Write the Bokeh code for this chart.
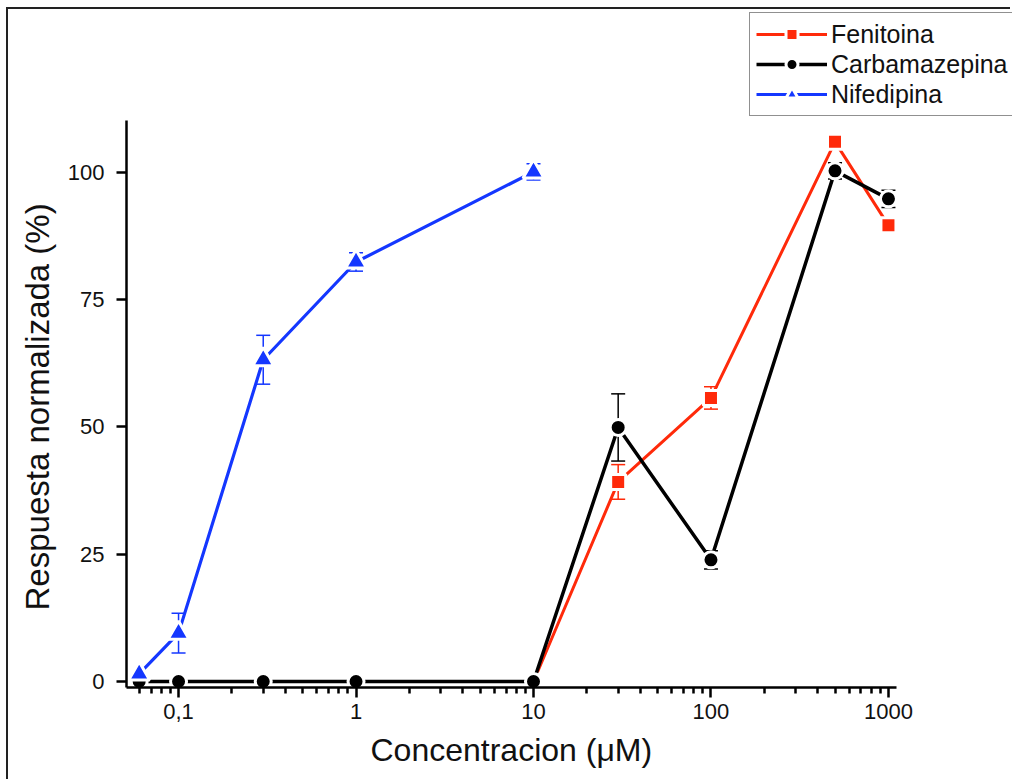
from bokeh.plotting import figure
from bokeh.models import (Range1d, FixedTicker, CustomJSTickFormatter, Whisker, TeeHead,
                          ColumnDataSource, Legend, LegendItem, Title)
from bokeh.embed import file_html
from bokeh.resources import INLINE

# ---- data ----
conc_nif = [0.06, 0.1, 0.3, 1, 10]
resp_nif = [1.5, 9.5, 63.2, 82.4, 100.1]
err_nif = [0.0, 3.9, 4.8, 1.8, 1.6]

conc_fc = [0.06, 0.1, 0.3, 1, 10, 30, 100, 500, 1000]
resp_fen = [0, 0, 0, 0, 0, 39.2, 55.7, 106.0, 89.6]
err_fen = [0, 0, 0, 0, 0, 3.4, 2.2, 1.3, 1.2]
resp_carb = [0, 0, 0, 0, 0, 49.9, 23.9, 100.3, 94.8]
err_carb = [0, 0, 0, 0, 0, 6.6, 1.8, 1.6, 1.7]

x_ticks = [0.1, 1, 10, 100, 1000]
x_tick_labels = ["0,1", "1", "10", "100", "1000"]
y_ticks = [0, 25, 50, 75, 100]

x_title = "Concentracion (μM)"
y_title = "Respuesta normalizada (%)"
names = ["Fenitoina", "Carbamazepina", "Nifedipina"]
colors = ["#FF2A0A", "#000000", "#1437FF"]

FONT = "Liberation Sans"

# axis extents (drawn part) and the wider plotting area that also hosts the legend
x_axis_bounds = (0.0509, 1110)
y_axis_bounds = (-1.18, 110.2)

p = figure(width=1004, height=772, x_axis_type="log",
           x_range=Range1d(0.0509, 5000), y_range=Range1d(-1.18, 131.8),
           output_backend="svg", toolbar_location=None,
           min_border_left=118, min_border_right=0,
           min_border_top=1, min_border_bottom=94)
p.styles = {"margin-left": "6px", "margin-top": "7px",
            "border-left": "2px solid #222", "border-top": "2px solid #222"}
p.outline_line_color = None
p.xgrid.grid_line_color = None
p.ygrid.grid_line_color = None
p.background_fill_color = "white"
p.border_fill_color = "white"

minor = [m * 10.0 ** e for e in range(-2, 3) for m in range(2, 10)]
minor = [v for v in minor if x_axis_bounds[0] <= v <= x_axis_bounds[1]]
p.xaxis.ticker = FixedTicker(ticks=x_ticks, minor_ticks=minor)
p.xaxis.formatter = CustomJSTickFormatter(args=dict(vals=x_ticks, labs=x_tick_labels), code="""
for (let i = 0; i < vals.length; i++) {
  if (Math.abs(Math.log10(tick) - Math.log10(vals[i])) < 1e-6) return labs[i];
}
return '';
""")
p.yaxis.ticker = FixedTicker(ticks=y_ticks)
p.xaxis.bounds = x_axis_bounds
p.yaxis.bounds = y_axis_bounds

for ax in (p.xaxis[0], p.yaxis[0]):
    ax.axis_line_width = 2.5
    ax.axis_line_color = "black"
    ax.major_tick_line_width = 2.5
    ax.minor_tick_line_width = 2.5
    ax.major_tick_out = 10
    ax.major_tick_in = 0
    ax.minor_tick_out = 6
    ax.minor_tick_in = 0
    ax.major_label_text_font = FONT
    ax.major_label_text_font_size = "22px"
    ax.major_label_text_color = "#111"

p.yaxis.minor_tick_line_color = None
p.yaxis.major_label_standoff = 12
p.xaxis.major_label_standoff = 6

# axis titles, placed so they are centred on the drawn axis extents
p.add_layout(Title(text=x_title, align="left", offset=244, vertical_align="bottom",
                   standoff=16, text_font=FONT, text_font_style="normal",
                   text_font_size="32px", text_color="#111"), "below")
p.add_layout(Title(text=y_title, align="left", offset=77, vertical_align="top",
                   standoff=14, text_font=FONT, text_font_style="normal",
                   text_font_size="33px", text_color="#111"), "left")

series = [
    (conc_fc, resp_fen, err_fen, "square", 12, 3),
    (conc_fc, resp_carb, err_carb, "circle", 13, 3.5),
    (conc_nif, resp_nif, err_nif, "triangle", 18, 3.2),
]

RING = 3
items = []
for (xs, ys, es, marker, size, lw), name, col in zip(series, names, colors):
    src = ColumnDataSource(dict(x=xs, y=ys))
    lr = p.line("x", "y", source=src, line_color=col, line_width=lw)
    sr = p.scatter("x", "y", source=src, marker=marker, size=size + RING,
                   fill_color=col, line_color="white", line_width=RING)
    wx = [x for x, e in zip(xs, es) if e > 0]
    wu = [y + e for y, e in zip(ys, es) if e > 0]
    wl = [y - e for y, e in zip(ys, es) if e > 0]
    wsrc = ColumnDataSource(dict(base=wx, upper=wu, lower=wl))
    w = Whisker(base="base", upper="upper", lower="lower", source=wsrc,
                dimension="height", line_color=col, line_width=1.5,
                upper_head=TeeHead(size=14, line_color=col, line_width=1.5),
                lower_head=TeeHead(size=14, line_color=col, line_width=1.5))
    p.add_layout(w)
    items.append(LegendItem(label=name, renderers=[lr, sr]))

legend = Legend(items=items, location=(623, 571), margin=0, padding=6,
                spacing=0, glyph_width=71, glyph_height=30, label_height=30,
                label_width=200, label_standoff=4, label_text_font=FONT,
                label_text_font_size="25px", label_text_color="#111",
                border_line_color="#222", border_line_width=1.5,
                background_fill_alpha=1.0)
p.add_layout(legend, "center")

open("out.html", "w").write(file_html(p, INLINE))
